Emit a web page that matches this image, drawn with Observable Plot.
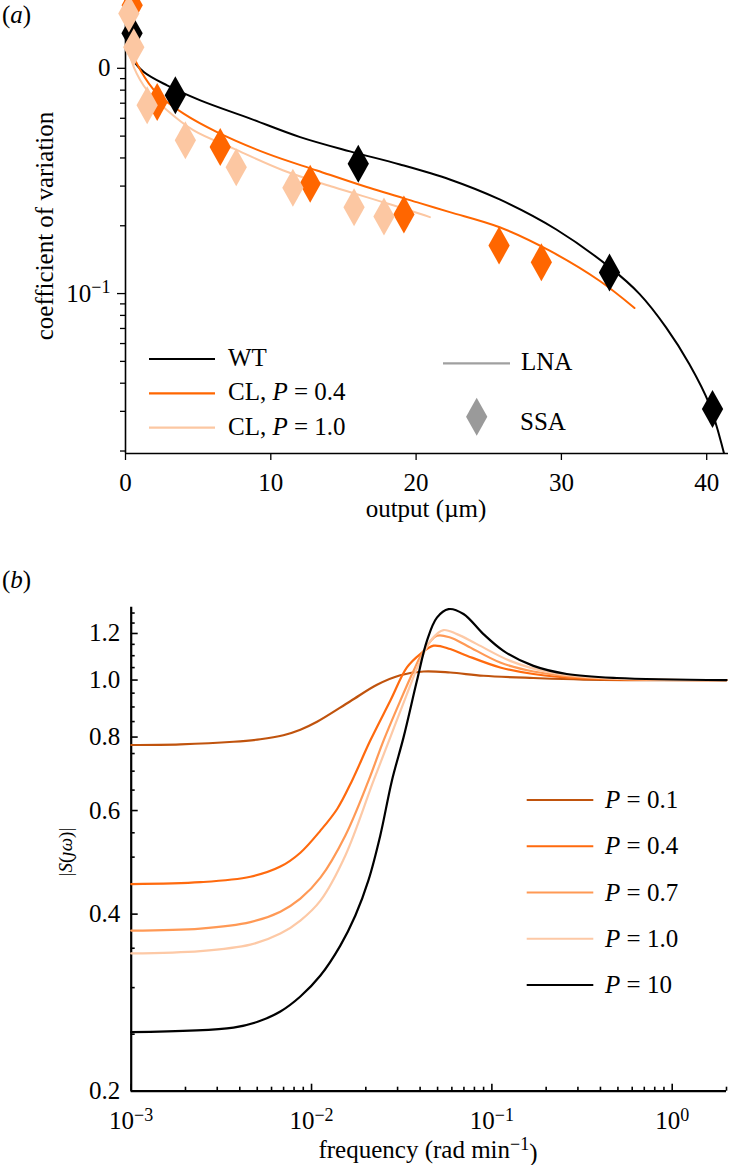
<!DOCTYPE html>
<html><head><meta charset="utf-8">
<script src="https://cdn.jsdelivr.net/npm/d3@7"></script>
<script src="https://cdn.jsdelivr.net/npm/@observablehq/plot@0.6"></script>
<style>
html,body{margin:0;padding:0;background:#fff;}
#wrap{position:relative;width:730px;height:1165px;overflow:hidden;background:#fff;}
#wrap svg{position:absolute;left:0;overflow:visible;}
</style></head><body><div id="wrap"></div>
<script>
// ---------- Panel (a): coefficient of variation vs output ----------
const wtLineX = [0.15, 0.35, 0.57, 1.26, 2.86, 5.15, 8.59, 12.02, 15.45, 18.89, 22.32, 25.75, 29.65, 33.31, 35.37, 37.2, 38.8, 40.18, 41.09, 41.4];
const wtLineY = [2.3, 1.3, 1.086, 0.963, 0.840, 0.721, 0.598, 0.495, 0.4277, 0.3744, 0.321, 0.2617, 0.1925, 0.131, 0.0997, 0.0708, 0.0487, 0.0323, 0.0207, 0.0170];
const cl04LineX = [0.08, 0.34, 1.03, 2.18, 4.00, 6.30, 9.75, 13.17, 16.6, 20.26, 22.32, 25.75, 29.19, 32.62, 35.03];
const cl04LineY = [2.3, 1.24, 0.98, 0.772, 0.629, 0.521, 0.418, 0.352, 0.297, 0.252, 0.230, 0.197, 0.155, 0.114, 0.0863];
const cl10LineX = [0.04, 0.12, 0.57, 1.49, 2.86, 4.69, 7.44, 10.87, 14.31, 17.74, 20.26, 20.95];
const cl10LineY = [2.3, 1.288, 1.013, 0.798, 0.651, 0.530, 0.440, 0.352, 0.297, 0.2545, 0.226, 0.2184];

const wtSsaX = [0.45, 3.43, 16.02, 33.31, 40.4];
const wtSsaY = [1.43, 0.759, 0.377, 0.124, 0.0307];
const cl04SsaX = [0.46, 2.18, 6.52, 12.71, 19.16, 25.71, 28.62];
const cl04SsaY = [1.905, 0.708, 0.447, 0.307, 0.2245, 0.1634, 0.1377];
const cl10SsaX = [0.23, 0.57, 1.49, 4.12, 7.62, 11.52, 15.73, 17.79];
const cl10SsaY = [1.75, 1.24, 0.685, 0.479, 0.364, 0.295, 0.2417, 0.2198];

const aXTicks = [0, 10, 20, 30, 40];
const aYMajor = [1, 0.1];
const aYMajorLabels = ["0", "10^\u22121"];
const aYMinor = [0.02, 0.03, 0.04, 0.05, 0.06, 0.07, 0.08, 0.09, 0.2, 0.3, 0.4, 0.5, 0.6, 0.7, 0.8, 0.9];

// ---------- Panel (b): |S(jw)| vs frequency ----------
const p01F = [0.001, 0.001875, 0.00369, 0.0052, 0.00698, 0.00867, 0.01073, 0.01641, 0.02307, 0.03105, 0.0418, 0.05875, 0.0898, 0.170, 0.3218, 2.0];
const p01V = [0.7755, 0.7777, 0.7855, 0.7931, 0.8058, 0.8234, 0.8494, 0.9205, 0.9818, 1.019, 1.034, 1.030, 1.017, 1.008, 1.002, 1.0];
const p04F = [0.001, 0.00242, 0.00458, 0.006718, 0.00867, 0.0112, 0.0139, 0.01677, 0.02117, 0.02733, 0.0338, 0.04006, 0.0475, 0.05875, 0.0727, 0.1112, 0.170, 0.3218, 2.0];
const p04V = [0.450, 0.4533, 0.4631, 0.4818, 0.5087, 0.5546, 0.6043, 0.6745, 0.789, 0.922, 1.0505, 1.107, 1.144, 1.129, 1.100, 1.0505, 1.024, 1.006, 1.0];
const p07F = [0.001, 0.00242, 0.00458, 0.006718, 0.00867, 0.0112, 0.01538, 0.0207, 0.02508, 0.03105, 0.0368, 0.0418, 0.04957, 0.05875, 0.0727, 0.1112, 0.170, 0.3218, 2.0];
const p07V = [0.375, 0.378, 0.3877, 0.4039, 0.4249, 0.4613, 0.5438, 0.6745, 0.789, 0.922, 1.037, 1.121, 1.189, 1.181, 1.144, 1.071, 1.034, 1.010, 1.0];
const p10F = [0.001, 0.00242, 0.00458, 0.006718, 0.00867, 0.0112, 0.01538, 0.02208, 0.02733, 0.0338, 0.04006, 0.0465, 0.0539, 0.0640, 0.0826, 0.1263, 0.2104, 0.398, 2.0];
const p10V = [0.343, 0.3461, 0.3549, 0.3707, 0.3901, 0.4217, 0.5028, 0.6745, 0.799, 0.9467, 1.078, 1.174, 1.216, 1.197, 1.151, 1.078, 1.030, 1.008, 1.0];
const p100F = [0.001, 0.00369, 0.00507, 0.006718, 0.00867, 0.0112, 0.01444, 0.0175, 0.02065, 0.02404, 0.0279, 0.03237, 0.0384, 0.04363, 0.04957, 0.05749, 0.0696, 0.0898, 0.1159, 0.170, 0.2603, 0.4927, 2.0];
const p100V = [0.252, 0.2566, 0.2627, 0.2732, 0.2897, 0.3145, 0.3536, 0.3978, 0.456, 0.5438, 0.6745, 0.799, 0.997, 1.166, 1.277, 1.320, 1.295, 1.197, 1.121, 1.057, 1.024, 1.008, 1.0];

const bXMajor = [0.001, 0.01, 0.1, 1];
const bXMajorLabels = ["10^\u22123", "10^\u22122", "10^\u22121", "10^0"];
const bXMinor = [0.002,0.003,0.004,0.005,0.006,0.007,0.008,0.009,0.02,0.03,0.04,0.05,0.06,0.07,0.08,0.09,0.2,0.3,0.4,0.5,0.6,0.7,0.8,0.9,2];
const bYMajor = [0.2, 0.4, 0.6, 0.8, 1.0, 1.2];
const bYMinor = [0.25,0.3,0.35,0.45,0.5,0.55,0.65,0.7,0.75,0.85,0.9,0.95,1.05,1.1,1.15,1.25,1.3];

const legendA = ["WT", "CL, P = 0.4", "CL, P = 1.0"];
const legendB = ["0.1", "0.4", "0.7", "1.0", "10"];

// colours
const cBlack = "#000000", cOrange = "#ff6600", cLight = "#fcc7a2";
const bColors = ["#c0530d", "#ff6a0e", "#ff9955", "#fdc9a6", "#000000"];

const rows = (xs, ys) => xs.map((x, i) => ({x, y: ys[i]}));
const thinDiamond = {
  draw(ctx, size) {
    const r = Math.sqrt(size / Math.PI), w = r * 0.56;
    ctx.moveTo(0, -r); ctx.lineTo(w, 0); ctx.lineTo(0, r); ctx.lineTo(-w, 0); ctx.closePath();
  }
};
const FONT = "'Liberation Serif', 'Times New Roman', serif";
const FS = 25;
const baseStyle = {fontFamily: FONT, fontSize: FS + "px", background: "transparent", color: "#000"};

function superscripts(svg) {
  d3.select(svg).selectAll("text").each(function () {
    const t = this.textContent;
    if (!t.includes("^")) return;
    const [base, exp] = t.split("^");
    const s = d3.select(this);
    s.text(base);
    s.append("tspan").attr("dy", "-0.45em").attr("font-size", "0.72em").text(exp);
  });
}

const wrap = document.getElementById("wrap");

// ---------- build panel (a) ----------
const aLabel = new Map(aYMajor.map((d, i) => [d, aYMajorLabels[i]]));
const yMinA = 0.0195;
const svgA = Plot.plot({
  width: 730, height: 540,
  marginTop: 0, marginBottom: 87, marginLeft: 125, marginRight: 2,
  x: {domain: [0, 41.5], label: null},
  y: {type: "log", domain: [yMinA, 2.0], label: null},
  style: baseStyle,
  marks: [
    Plot.axisY({ticks: aYMinor, tickSize: 5, tickFormat: () => "", label: null, strokeWidth: 1.3}),
    Plot.axisY({ticks: aYMajor, tickSize: 8, tickPadding: 7, tickFormat: d => aLabel.get(d), label: null, strokeWidth: 1.3}),
    Plot.axisX({ticks: aXTicks, tickSize: 7, tickPadding: 13, tickFormat: d => String(d), label: null, strokeWidth: 1.3}),
    Plot.ruleX([0], {strokeWidth: 1.6}),
    Plot.ruleY([yMinA], {strokeWidth: 1.6}),
    Plot.line(rows(wtLineX, wtLineY), {x: "x", y: "y", stroke: cBlack, strokeWidth: 2, curve: "catmull-rom", clip: true}),
    Plot.line(rows(cl04LineX, cl04LineY), {x: "x", y: "y", stroke: cOrange, strokeWidth: 2, curve: "catmull-rom", clip: true}),
    Plot.line(rows(cl10LineX, cl10LineY), {x: "x", y: "y", stroke: cLight, strokeWidth: 2, curve: "catmull-rom", clip: true}),
    Plot.dot(rows(cl04SsaX, cl04SsaY), {x: "x", y: "y", fill: cOrange, symbol: thinDiamond, r: 19}),
    Plot.dot(rows(wtSsaX, wtSsaY), {x: "x", y: "y", fill: cBlack, symbol: thinDiamond, r: 19}),
    Plot.dot(rows(cl10SsaX, cl10SsaY), {x: "x", y: "y", fill: cLight, symbol: thinDiamond, r: 19})
  ]
});
svgA.style.top = "0px";
superscripts(svgA);
wrap.appendChild(svgA);
{
  const g = d3.select(svgA).append("g").attr("font-family", FONT).attr("font-size", FS).attr("fill", "#000").attr("text-anchor", "start");
  const t = g.append("text").attr("x", 2).attr("y", 23);
  t.append("tspan").text("(");
  t.append("tspan").attr("font-style", "italic").text("a");
  t.append("tspan").text(")");
  g.append("text").attr("transform", "translate(53,226) rotate(-90)").attr("text-anchor", "middle").text("coefficient of variation");
  g.append("text").attr("x", 426).attr("y", 517).attr("text-anchor", "middle").text("output (\u00b5m)");
  const cols = [cBlack, cOrange, cLight];
  const ly = [359, 393.3, 427.7];
  legendA.forEach((lab, i) => {
    g.append("line").attr("x1", 149).attr("x2", 215).attr("y1", ly[i]).attr("y2", ly[i]).attr("stroke", cols[i]).attr("stroke-width", 2.2);
    const tx = g.append("text").attr("x", 228).attr("y", ly[i] + 7);
    const m = lab.match(/^(.*?)P(.*)$/);
    if (m) {
      tx.append("tspan").text(m[1]);
      tx.append("tspan").attr("font-style", "italic").text("P");
      tx.append("tspan").text(m[2]);
    } else tx.text(lab);
  });
  g.append("line").attr("x1", 443).attr("x2", 510).attr("y1", 363.3).attr("y2", 363.3).attr("stroke", "#a0a0a0").attr("stroke-width", 2.2);
  g.append("text").attr("x", 521).attr("y", 370).text("LNA");
  g.append("path").attr("transform", "translate(476.7,416.7)").attr("d", d3.symbol(thinDiamond, Math.PI * 19 * 19)()).attr("fill", "#9a9a9a");
  g.append("text").attr("x", 520).attr("y", 430).text("SSA");
}

// ---------- build panel (b) ----------
const bLabel = new Map(bXMajor.map((d, i) => [d, bXMajorLabels[i]]));
const series = [[p01F, p01V], [p04F, p04V], [p07F, p07V], [p10F, p10V], [p100F, p100V]];
const svgB = Plot.plot({
  width: 730, height: 625,
  marginTop: 66.7, marginBottom: 74.3, marginLeft: 130.7, marginRight: 4,
  x: {type: "log", domain: [0.001, 2], label: null},
  y: {type: "log", domain: [0.2, 1.33], label: null},
  style: baseStyle,
  marks: [
    Plot.axisY({ticks: bYMinor, tickSize: -4, tickFormat: () => "", label: null, strokeWidth: 1.6}),
    Plot.axisY({ticks: bYMajor, tickSize: -7, tickFormat: () => "", label: null, strokeWidth: 1.6}),
    Plot.axisY({ticks: bYMajor, tickSize: 0, tickPadding: 11, tickFormat: d => d.toFixed(1), label: null}),
    Plot.axisX({ticks: bXMinor, tickSize: -4, tickFormat: () => "", label: null, strokeWidth: 1.6}),
    Plot.axisX({ticks: bXMajor, tickSize: -7, tickFormat: () => "", label: null, strokeWidth: 1.6}),
    Plot.axisX({ticks: bXMajor, tickSize: 0, tickPadding: 20, tickFormat: d => bLabel.get(d), label: null}),
    Plot.ruleX([0.001], {strokeWidth: 2.2}),
    Plot.ruleY([0.2], {strokeWidth: 2.2}),
    ...series.map(([f, v], i) => Plot.line(rows(f, v), {x: "x", y: "y", stroke: bColors[i], strokeWidth: 2.2, curve: "catmull-rom"}))
  ]
});
svgB.style.top = "540px";
superscripts(svgB);
wrap.appendChild(svgB);
{
  const g = d3.select(svgB).append("g").attr("font-family", FONT).attr("font-size", FS).attr("fill", "#000").attr("text-anchor", "start");
  const t = g.append("text").attr("x", 2).attr("y", 48);
  t.append("tspan").text("(");
  t.append("tspan").attr("font-style", "italic").text("b");
  t.append("tspan").text(")");
  const yl = g.append("text").attr("transform", "translate(72,312) rotate(-90)").attr("text-anchor", "middle").attr("font-size", 19);
  yl.append("tspan").text("|");
  yl.append("tspan").attr("font-style", "italic").text("S");
  yl.append("tspan").text("(");
  yl.append("tspan").attr("font-style", "italic").text("\u0237\u03c9");
  yl.append("tspan").text(")|");
  const xl = g.append("text").attr("x", 428).attr("y", 618).attr("text-anchor", "middle");
  xl.append("tspan").text("frequency (rad min");
  xl.append("tspan").attr("dy", "-0.45em").attr("font-size", "0.72em").text("\u22121");
  xl.append("tspan").attr("dy", "0.45em").text(")");
  legendB.forEach((lab, i) => {
    const y = 260 + i * 46.25;
    g.append("line").attr("x1", 526.7).attr("x2", 593.3).attr("y1", y).attr("y2", y).attr("stroke", bColors[i]).attr("stroke-width", 2.2);
    const tx = g.append("text").attr("x", 605).attr("y", y + 8);
    tx.append("tspan").attr("font-style", "italic").text("P");
    tx.append("tspan").text(" = " + lab);
  });
}
</script></body></html>
